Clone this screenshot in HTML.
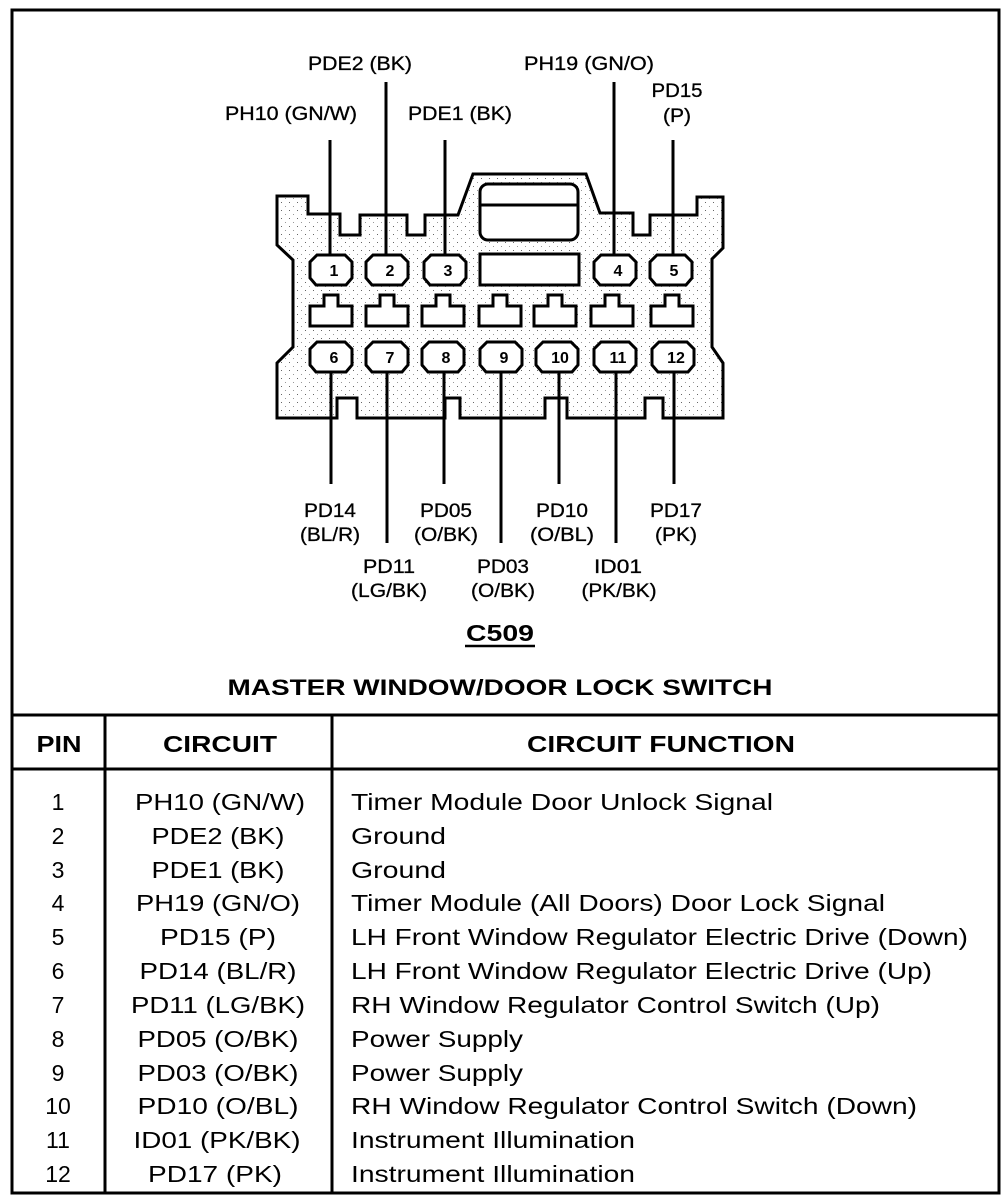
<!DOCTYPE html>
<html><head><meta charset="utf-8"><style>
html,body{margin:0;padding:0;background:#fff;}
svg{display:block;}
text{font-family:"Liberation Sans",sans-serif;fill:#000;}
</style></head><body>
<svg width="1008" height="1204" viewBox="0 0 1008 1204" xmlns="http://www.w3.org/2000/svg">
<defs>
<pattern id="dots" width="8" height="8" patternUnits="userSpaceOnUse">
<rect width="8" height="8" fill="#fff"/>
<rect x="1" y="2" width="1" height="1" fill="#666"/>
<rect x="5" y="6" width="1" height="1" fill="#999"/>
</pattern>
<g id="oct"><path d="M-14,-15 L14,-15 L21,-8 L21,8 L15,15 L-15,15 L-21,8 L-21,-8 Z" fill="#fff" stroke="#000" stroke-width="3"/></g>
<g id="tee"><path d="M-7,-16 L7,-16 L7,-5 L21,-5 L21,15 L-21,15 L-21,-5 L-7,-5 Z" fill="#fff" stroke="#000" stroke-width="3"/></g>
</defs>
<rect x="12" y="10" width="987" height="1183" fill="none" stroke="#000" stroke-width="3"/>

<path d="M277,196 L308,196 L308,214 L340,214 L340,235 L360,235 L360,215 L407,215 L407,235 L425,235 L425,215 L458,215 L473,174 L586,174 L600,213 L633,213 L633,235 L650,235 L650,215 L697,215 L697,197 L723,197 L723,248 L712,259 L712,347 L723,363 L723,418 L663,418 L663,398 L645,398 L645,418 L567,418 L567,398 L545,398 L545,418 L460,418 L460,398 L445,398 L445,418 L357,418 L357,398 L337,398 L337,418 L277,418 L277,363 L293,347 L293,260 L277,245 Z" fill="url(#dots)" stroke="#000" stroke-width="3" stroke-linejoin="miter"/>
<rect x="480" y="184" width="98" height="56" rx="8" fill="#fff" stroke="#000" stroke-width="3"/>
<line x1="480" y1="205" x2="578" y2="205" stroke="#000" stroke-width="3"/>
<rect x="480" y="254" width="99" height="31" fill="#fff" stroke="#000" stroke-width="3"/>

<g stroke="#000" stroke-width="3">
<line x1="330" y1="140" x2="330" y2="255"/>
<line x1="386" y1="82" x2="386" y2="255"/>
<line x1="445" y1="140" x2="445" y2="255"/>
<line x1="614" y1="82" x2="614" y2="255"/>
<line x1="673" y1="140" x2="673" y2="255"/>
<line x1="331" y1="372" x2="331" y2="484"/>
<line x1="387" y1="372" x2="387" y2="543"/>
<line x1="444" y1="372" x2="444" y2="484"/>
<line x1="501" y1="372" x2="501" y2="543"/>
<line x1="559" y1="372" x2="559" y2="484"/>
<line x1="616" y1="372" x2="616" y2="543"/>
<line x1="674" y1="372" x2="674" y2="484"/>
</g>

<g font-weight="bold" font-size="16" text-anchor="middle">
<use href="#oct" x="331" y="270"/><text x="334" y="276">1</text>
<use href="#oct" x="387" y="270"/><text x="390" y="276">2</text>
<use href="#oct" x="445" y="270"/><text x="448" y="276">3</text>
<use href="#oct" x="615" y="270"/><text x="618" y="276">4</text>
<use href="#oct" x="671" y="270"/><text x="674" y="276">5</text>
<use href="#tee" x="331" y="311"/>
<use href="#tee" x="387" y="311"/>
<use href="#tee" x="443" y="311"/>
<use href="#tee" x="500" y="311"/>
<use href="#tee" x="555" y="311"/>
<use href="#tee" x="612" y="311"/>
<use href="#tee" x="672" y="311"/>
<use href="#oct" x="331" y="357"/><text x="334" y="363">6</text>
<use href="#oct" x="387" y="357"/><text x="390" y="363">7</text>
<use href="#oct" x="443" y="357"/><text x="446" y="363">8</text>
<use href="#oct" x="501" y="357"/><text x="504" y="363">9</text>
<use href="#oct" x="557" y="357"/><text x="560" y="363">10</text>
<use href="#oct" x="615" y="357"/><text x="618" y="363">11</text>
<use href="#oct" x="673" y="357"/><text x="676" y="363">12</text>
</g>

<g font-size="19" text-anchor="middle" stroke="#000" stroke-width="0.3">
<text x="360" y="70" textLength="104" lengthAdjust="spacingAndGlyphs">PDE2 (BK)</text>
<text x="291" y="120" textLength="132" lengthAdjust="spacingAndGlyphs">PH10 (GN/W)</text>
<text x="460" y="120" textLength="104" lengthAdjust="spacingAndGlyphs">PDE1 (BK)</text>
<text x="589" y="70" textLength="130" lengthAdjust="spacingAndGlyphs">PH19 (GN/O)</text>
<text x="677" y="97" textLength="51" lengthAdjust="spacingAndGlyphs">PD15</text>
<text x="677" y="122" textLength="28" lengthAdjust="spacingAndGlyphs">(P)</text>
<text x="330" y="517" textLength="52" lengthAdjust="spacingAndGlyphs">PD14</text>
<text x="330" y="541" textLength="60" lengthAdjust="spacingAndGlyphs">(BL/R)</text>
<text x="446" y="517" textLength="52" lengthAdjust="spacingAndGlyphs">PD05</text>
<text x="446" y="541" textLength="64" lengthAdjust="spacingAndGlyphs">(O/BK)</text>
<text x="562" y="517" textLength="52" lengthAdjust="spacingAndGlyphs">PD10</text>
<text x="562" y="541" textLength="64" lengthAdjust="spacingAndGlyphs">(O/BL)</text>
<text x="676" y="517" textLength="52" lengthAdjust="spacingAndGlyphs">PD17</text>
<text x="676" y="541" textLength="42" lengthAdjust="spacingAndGlyphs">(PK)</text>
<text x="389" y="573" textLength="52" lengthAdjust="spacingAndGlyphs">PD11</text>
<text x="389" y="597" textLength="76" lengthAdjust="spacingAndGlyphs">(LG/BK)</text>
<text x="503" y="573" textLength="52" lengthAdjust="spacingAndGlyphs">PD03</text>
<text x="503" y="597" textLength="64" lengthAdjust="spacingAndGlyphs">(O/BK)</text>
<text x="618" y="573" textLength="48" lengthAdjust="spacingAndGlyphs">ID01</text>
<text x="619" y="597" textLength="75" lengthAdjust="spacingAndGlyphs">(PK/BK)</text>
</g>
<text x="500" y="641" font-size="23" font-weight="bold" text-anchor="middle" textLength="68" lengthAdjust="spacingAndGlyphs">C509</text>
<line x1="465" y1="646" x2="535" y2="646" stroke="#000" stroke-width="2.5"/>
<text x="500" y="695" font-size="22" font-weight="bold" text-anchor="middle" textLength="545" lengthAdjust="spacingAndGlyphs">MASTER WINDOW/DOOR LOCK SWITCH</text>

<g stroke="#000" stroke-width="3">
<line x1="12" y1="715" x2="999" y2="715"/>
<line x1="12" y1="769" x2="999" y2="769"/>
<line x1="105" y1="715" x2="105" y2="1193"/>
<line x1="332" y1="715" x2="332" y2="1193"/>
</g>
<g font-size="23" font-weight="bold" text-anchor="middle">
<text x="59" y="752" textLength="45" lengthAdjust="spacingAndGlyphs">PIN</text>
<text x="220" y="752" textLength="114" lengthAdjust="spacingAndGlyphs">CIRCUIT</text>
<text x="661" y="752" textLength="268" lengthAdjust="spacingAndGlyphs">CIRCUIT FUNCTION</text>
</g>
<g font-size="23">
<g text-anchor="middle">
<text x="58" y="810">1</text><text x="220" y="810" textLength="170" lengthAdjust="spacingAndGlyphs">PH10 (GN/W)</text>
<text x="58" y="844">2</text><text x="218" y="844" textLength="133" lengthAdjust="spacingAndGlyphs">PDE2 (BK)</text>
<text x="58" y="878">3</text><text x="218" y="878" textLength="133" lengthAdjust="spacingAndGlyphs">PDE1 (BK)</text>
<text x="58" y="911">4</text><text x="218" y="911" textLength="164" lengthAdjust="spacingAndGlyphs">PH19 (GN/O)</text>
<text x="58" y="945">5</text><text x="218" y="945" textLength="116" lengthAdjust="spacingAndGlyphs">PD15 (P)</text>
<text x="58" y="979">6</text><text x="218" y="979" textLength="157" lengthAdjust="spacingAndGlyphs">PD14 (BL/R)</text>
<text x="58" y="1013">7</text><text x="218" y="1013" textLength="174" lengthAdjust="spacingAndGlyphs">PD11 (LG/BK)</text>
<text x="58" y="1047">8</text><text x="218" y="1047" textLength="161" lengthAdjust="spacingAndGlyphs">PD05 (O/BK)</text>
<text x="58" y="1081">9</text><text x="218" y="1081" textLength="161" lengthAdjust="spacingAndGlyphs">PD03 (O/BK)</text>
<text x="58" y="1114">10</text><text x="218" y="1114" textLength="161" lengthAdjust="spacingAndGlyphs">PD10 (O/BL)</text>
<text x="58" y="1148">11</text><text x="217" y="1148" textLength="167" lengthAdjust="spacingAndGlyphs">ID01 (PK/BK)</text>
<text x="58" y="1182">12</text><text x="215" y="1182" textLength="134" lengthAdjust="spacingAndGlyphs">PD17 (PK)</text>
</g>
<text x="351" y="810" textLength="422" lengthAdjust="spacingAndGlyphs">Timer Module Door Unlock Signal</text>
<text x="351" y="844" textLength="95" lengthAdjust="spacingAndGlyphs">Ground</text>
<text x="351" y="878" textLength="95" lengthAdjust="spacingAndGlyphs">Ground</text>
<text x="351" y="911" textLength="534" lengthAdjust="spacingAndGlyphs">Timer Module (All Doors) Door Lock Signal</text>
<text x="351" y="945" textLength="617" lengthAdjust="spacingAndGlyphs">LH Front Window Regulator Electric Drive (Down)</text>
<text x="351" y="979" textLength="581" lengthAdjust="spacingAndGlyphs">LH Front Window Regulator Electric Drive (Up)</text>
<text x="351" y="1013" textLength="529" lengthAdjust="spacingAndGlyphs">RH Window Regulator Control Switch (Up)</text>
<text x="351" y="1047" textLength="172" lengthAdjust="spacingAndGlyphs">Power Supply</text>
<text x="351" y="1081" textLength="172" lengthAdjust="spacingAndGlyphs">Power Supply</text>
<text x="351" y="1114" textLength="566" lengthAdjust="spacingAndGlyphs">RH Window Regulator Control Switch (Down)</text>
<text x="351" y="1148" textLength="284" lengthAdjust="spacingAndGlyphs">Instrument Illumination</text>
<text x="351" y="1182" textLength="284" lengthAdjust="spacingAndGlyphs">Instrument Illumination</text>
</g>
</svg>
</body></html>
